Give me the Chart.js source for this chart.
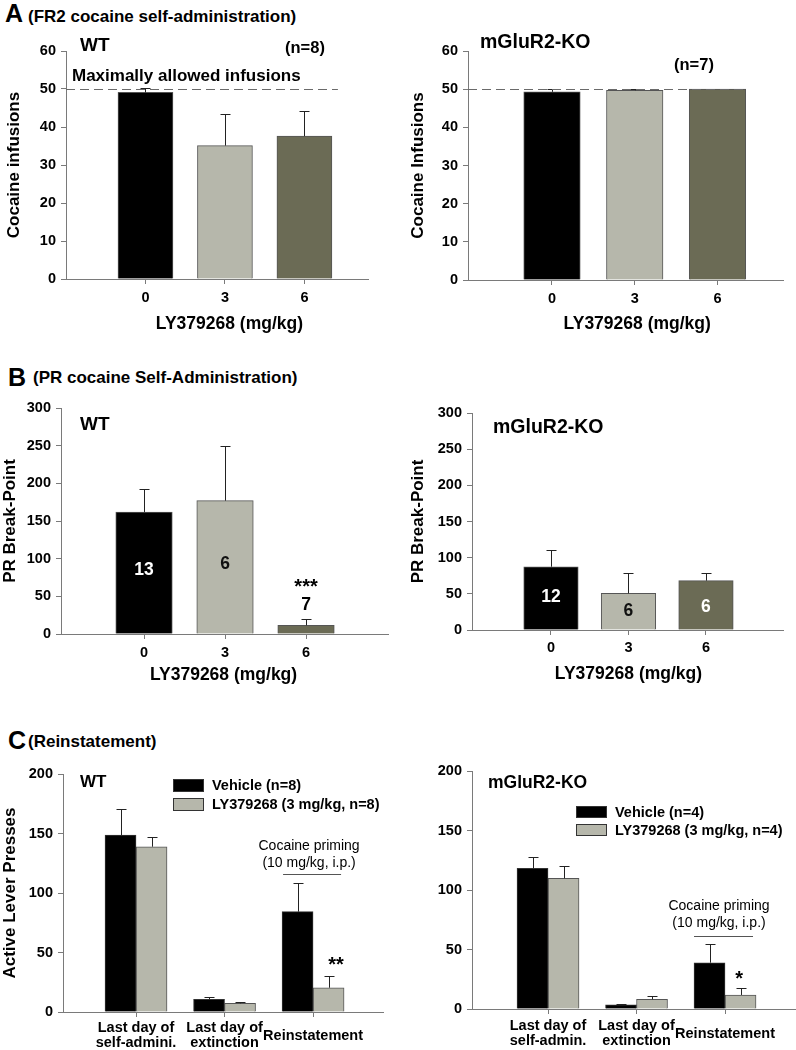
<!DOCTYPE html>
<html>
<head>
<meta charset="utf-8">
<script src="https://cdn.jsdelivr.net/npm/chart.js@4.4.1/dist/chart.umd.min.js"></script>
<style>
  body { margin: 0; background: #fff; width: 796px; height: 1050px; position: relative; overflow: hidden;
         font-family: 'Liberation Sans', Arial, sans-serif; }
  .hd { position: absolute; font-weight: bold; color: #000; white-space: nowrap; }
  .big { font-size: 25px; line-height: 25px; }
  .sub { font-size: 17px; line-height: 17px; }
</style>
</head>
<body>
<div class="hd big" style="left:5px;top:1px">A</div>
<div class="hd sub" style="left:28px;top:8px">(FR2 cocaine self-administration)</div>
<div class="hd big" style="left:8px;top:365px">B</div>
<div class="hd sub" style="left:33px;top:369px">(PR cocaine Self-Administration)</div>
<div class="hd big" style="left:8px;top:728px">C</div>
<div class="hd sub" style="left:28px;top:733px">(Reinstatement)</div>

<script>
// ---- data ----
const doses = ['0', '3', '6'];
const maxInfusions = 50;

// A: FR2 cocaine self-administration (infusions)
const fr2WT = [49.1, 35.1, 37.6];
const fr2WTErr = [1.1, 8.2, 6.6];
const fr2KO = [49.3, 49.7, 50];
const fr2KOErr = [0.7, 0.3, 0];

// B: PR break-point
const prWT = [162, 177, 11.5];
const prWTErr = [30, 72, 8.5];
const prWTn = ['13', '6', '7'];
const prKO = [87.5, 50.7, 68.2];
const prKOErr = [23, 28.5, 10.2];
const prKOn = ['12', '6', '6'];

// C: reinstatement, active lever presses
const phasesWT = [['Last day of', 'self-admini.'], ['Last day of', 'extinction'], 'Reinstatement'];
const phasesKO = [['Last day of', 'self-admin.'], ['Last day of', 'extinction'], 'Reinstatement'];
const reWTVeh = [148.7, 10.6, 84.3];
const reWTVehErr = [21.9, 1.7, 23.8];
const reWTLY = [138.9, 7.3, 20.4];
const reWTLYErr = [8.4, 1.4, 9.9];
const reKOVeh = [118.2, 3.4, 38.9];
const reKOVehErr = [9.8, 0.4, 15.4];
const reKOLY = [109.8, 8.1, 11.8];
const reKOLYErr = [10.4, 2.8, 6.1];

const FONT = "'Liberation Sans', Arial, sans-serif";
const BLACK = '#000000', LIGHT = '#b6b7ab', DARK = '#6b6b55', AXIS = '#7a7a7a';
const doseColors = [BLACK, LIGHT, DARK];
const xTitle = 'LY379268 (mg/kg)';

const pts = arr => arr.map((v, i) => ({ x: i, y: v }));

// error bars (upper half only, like the original)
const errorBars = {
  id: 'errorBars',
  afterDatasetsDraw(chart) {
    const ctx = chart.ctx, y = chart.scales.y;
    chart.data.datasets.forEach((ds, di) => {
      if (!ds.errors) return;
      chart.getDatasetMeta(di).data.forEach((bar, i) => {
        const e = ds.errors[i];
        if (!e) return;
        const top = Math.round(y.getPixelForValue(ds.data[i].y + e)) + 0.5;
        const cx = Math.round(bar.x) + 0.5;
        ctx.save();
        ctx.strokeStyle = '#222';
        ctx.lineWidth = 1;
        ctx.beginPath();
        ctx.moveTo(cx, bar.y);
        ctx.lineTo(cx, top);
        ctx.moveTo(cx - 5, top);
        ctx.lineTo(cx + 5, top);
        ctx.stroke();
        ctx.restore();
      });
    });
  }
};

// free text, reference lines and the small legend
const notes = {
  id: 'notes',
  afterDraw(chart, args, opts) {
    const { ctx, chartArea: a, scales: { x, y } } = chart;
    const px = n => n.i !== undefined ? x.getPixelForValue(n.i) + (n.o || 0) : a.left + n.x;
    const py = n => n.v !== undefined ? y.getPixelForValue(n.v) : (n.yb !== undefined ? a.bottom + n.yb : a.top + n.y);
    ctx.save();
    (opts.lines || []).forEach(l => {
      const yy = Math.round(y.getPixelForValue(l.v)) + 0.5;
      ctx.beginPath();
      ctx.strokeStyle = l.c || '#555';
      ctx.lineWidth = 1;
      ctx.setLineDash(l.dash || []);
      ctx.moveTo(l.i0 !== undefined ? x.getPixelForValue(l.i0) + l.o0 : a.left, yy);
      ctx.lineTo(x.getPixelForValue(l.i1) + l.o1, yy);
      ctx.stroke();
    });
    ctx.setLineDash([]);
    (opts.items || []).forEach(n => {
      ctx.font = `${n.w || 'bold'} ${n.f || 16}px ${FONT}`;
      ctx.fillStyle = n.c || '#000';
      ctx.textAlign = n.a || (n.i !== undefined ? 'center' : 'left');
      ctx.textBaseline = 'middle';
      ctx.fillText(n.t, px(n), py(n));
    });
    const lg = opts.legend;
    if (lg) {
      chart.data.datasets.forEach((ds, k) => {
        const bx = a.left + lg.x, by = a.top + lg.y + k * lg.gap;
        ctx.fillStyle = ds.backgroundColor;
        ctx.fillRect(bx, by, lg.w, lg.h);
        ctx.strokeStyle = '#333';
        ctx.lineWidth = 1;
        ctx.strokeRect(bx + 0.5, by + 0.5, lg.w - 1, lg.h - 1);
        ctx.font = `bold 14.5px ${FONT}`;
        ctx.fillStyle = '#000';
        ctx.textAlign = 'left';
        ctx.textBaseline = 'middle';
        ctx.fillText(ds.label, bx + lg.w + 8, by + lg.h / 2 + 0.5);
      });
    }
    ctx.restore();
  }
};

// box = canvas [left, top, w, h] on the page, area = plot rectangle [l, t, r, b] on the page
function panel(box, area, cfg) {
  const wrap = document.createElement('div');
  wrap.style.cssText = `position:absolute;left:${box[0]}px;top:${box[1]}px;width:${box[2]}px;height:${box[3]}px`;
  const cv = document.createElement('canvas');
  cv.width = box[2];
  cv.height = box[3];
  wrap.appendChild(cv);
  document.body.appendChild(wrap);
  const tickFont = { family: FONT, weight: 'bold', size: 14.5 };
  const ytf = 17;
  return new Chart(cv, {
    type: 'bar',
    data: { datasets: cfg.datasets },
    options: {
      responsive: false,
      animation: false,
      layout: { padding: { left: 0, top: area[1] - box[1], right: box[0] + box[2] - area[2], bottom: 0 } },
      plugins: { legend: { display: false }, tooltip: { enabled: false }, notes: cfg.notes },
      scales: {
        x: {
          type: 'linear', min: cfg.xMin, max: cfg.xMax, offset: false, bounds: 'data',
          afterBuildTicks: s => { s.ticks = cfg.labels.map((l, i) => ({ value: i })); },
          afterFit: s => { s.height = box[1] + box[3] - area[3]; },
          grid: { display: true, offset: false, drawOnChartArea: false, tickLength: 5, color: AXIS },
          border: { display: true, color: AXIS },
          ticks: {
            callback: v => cfg.labels[v], color: '#000', font: cfg.xFont || tickFont,
            padding: cfg.xPad || 14, maxRotation: 0, autoSkip: false, crossAlign: 'center'
          }
        },
        y: {
          min: 0, max: cfg.yMax,
          afterFit: s => { s.width = area[0] - box[0]; },
          grid: { display: true, drawOnChartArea: false, tickLength: 5, color: AXIS },
          border: { display: true, color: AXIS },
          ticks: { stepSize: cfg.yStep, color: '#000', font: tickFont, padding: 5 },
          title: cfg.yTitle ? {
            display: true, text: cfg.yTitle, color: '#000',
            font: { family: FONT, weight: 'bold', size: ytf },
            padding: { top: Math.max(0, cfg.yTitleX - box[0] - ytf * 0.6), bottom: 0 }
          } : { display: false }
        }
      }
    },
    plugins: [errorBars, notes]
  });
}

function doseSet(vals, errs, w) {
  return [{ data: pts(vals), errors: errs, backgroundColor: doseColors,
            borderColor: '#555', borderWidth: 1, barThickness: w }];
}
function phaseSets(veh, vehErr, ly, lyErr, nVeh, nLy) {
  return [
    { label: `Vehicle (n=${nVeh})`, data: pts(veh), errors: vehErr, backgroundColor: BLACK,
      borderColor: '#333', borderWidth: 1, barThickness: 31 },
    { label: `LY379268 (3 mg/kg, n=${nLy})`, data: pts(ly), errors: lyErr, backgroundColor: LIGHT,
      borderColor: '#555', borderWidth: 1, barThickness: 31 }
  ];
}

// A left: WT FR2
panel([0, 30, 398, 310], [66, 51, 368, 279], {
  datasets: doseSet(fr2WT, fr2WTErr, 55), labels: doses, xMin: -1, xMax: 2.8,
  yMax: 60, yStep: 10, yTitle: 'Cocaine infusions', yTitleX: 14,
  notes: {
    lines: [{ v: maxInfusions, i1: 2, o1: 33.5, dash: [9, 5], c: '#6a6a6a' }],
    items: [
      { t: 'WT', x: 14, y: -5, f: 19 },
      { t: '(n=8)', x: 219, y: -3, f: 16.5 },
      { t: 'Maximally allowed infusions', x: 6, y: 25, f: 17 },
      { t: xTitle, i: 1, o: 4.5, yb: 45, f: 17.5 }
    ]
  }
});

// A right: KO FR2
panel([398, 30, 398, 310], [468, 51, 783, 280], {
  datasets: doseSet(fr2KO, fr2KOErr, 56.5), labels: doses, xMin: -1.015, xMax: 2.792,
  yMax: 60, yStep: 10, yTitle: 'Cocaine Infusions', yTitleX: 418,
  notes: {
    lines: [{ v: maxInfusions, i1: 2, o1: 29.5, dash: [9, 5], c: '#6a6a6a' }],
    items: [
      { t: 'mGluR2-KO', x: 12, y: -8, f: 19.5 },
      { t: '(n=7)', x: 206, y: 14, f: 16.5 },
      { t: xTitle, i: 1, o: 2.5, yb: 44, f: 17.5 }
    ]
  }
});

// B left: WT PR
panel([0, 390, 398, 300], [61, 408, 388, 634], {
  datasets: doseSet(prWT, prWTErr, 56.5), labels: doses, xMin: -1.025, xMax: 3.012,
  yMax: 300, yStep: 50, yTitle: 'PR Break-Point', yTitleX: 9,
  notes: {
    items: [
      { t: 'WT', x: 19, y: 17, f: 19 },
      { t: prWTn[0], i: 0, v: 85, f: 17.5, c: '#fff' },
      { t: prWTn[1], i: 1, v: 93, f: 17.5, c: '#111' },
      { t: '***', i: 2, v: 62, f: 20 },
      { t: prWTn[2], i: 2, v: 38.5, f: 17.5 },
      { t: xTitle, i: 1, o: -1.5, yb: 41, f: 17.5 }
    ]
  }
});

// B right: KO PR
panel([398, 390, 398, 300], [472, 413, 783, 630], {
  datasets: doseSet(prKO, prKOErr, 54.5), labels: doses, xMin: -1.019, xMax: 2.994, xPad: 13,
  yMax: 300, yStep: 50, yTitle: 'PR Break-Point', yTitleX: 418,
  notes: {
    items: [
      { t: 'mGluR2-KO', x: 21, y: 15, f: 19.5 },
      { t: prKOn[0], i: 0, v: 45.6, f: 17.5, c: '#fff' },
      { t: prKOn[1], i: 1, v: 26, f: 17.5, c: '#111' },
      { t: prKOn[2], i: 2, v: 32, f: 17.5, c: '#fff' },
      { t: xTitle, i: 1, o: 0, yb: 44, f: 17.5 }
    ]
  }
});

// C left: WT reinstatement
panel([0, 755, 398, 295], [63, 774, 383, 1012], {
  datasets: phaseSets(reWTVeh, reWTVehErr, reWTLY, reWTLYErr, 8, 8), labels: phasesWT,
  xMin: -0.825, xMax: 2.79, xFont: { family: FONT, weight: 'bold', size: 14.5, lineHeight: 1.05 }, xPad: 11,
  yMax: 200, yStep: 50, yTitle: 'Active Lever Presses', yTitleX: 10,
  notes: {
    legend: { x: 110, y: 5, gap: 19, w: 31, h: 13 },
    lines: [{ v: 116, i0: 2, o0: -30, i1: 2, o1: 28, c: '#555' }],
    items: [
      { t: 'WT', x: 17, y: 8, f: 17 },
      { t: 'Cocaine priming', i: 2, o: -4, v: 139.5, f: 14, w: 'normal' },
      { t: '(10 mg/kg, i.p.)', i: 2, o: -4, v: 125, f: 14, w: 'normal' },
      { t: '**', i: 2, o: 23, v: 38.7, f: 20 }
    ]
  }
});

// C right: KO reinstatement
panel([398, 755, 398, 295], [472, 771, 796, 1009], {
  datasets: phaseSets(reKOVeh, reKOVehErr, reKOLY, reKOLYErr, 4, 4), labels: phasesKO,
  xMin: -0.859, xMax: 2.802, xFont: { family: FONT, weight: 'bold', size: 14.5, lineHeight: 1.05 }, xPad: 12,
  yMax: 200, yStep: 50,
  notes: {
    legend: { x: 104, y: 35, gap: 18, w: 31, h: 12 },
    lines: [{ v: 61.3, i0: 2, o0: -31, i1: 2, o1: 28, c: '#555' }],
    items: [
      { t: 'mGluR2-KO', x: 16, y: 12, f: 17.5 },
      { t: 'Cocaine priming', i: 2, o: -6, v: 86.6, f: 14, w: 'normal' },
      { t: '(10 mg/kg, i.p.)', i: 2, o: -6, v: 72.3, f: 14, w: 'normal' },
      { t: '*', i: 2, o: 14, v: 25.2, f: 20 }
    ]
  }
});
</script>
</body>
</html>
